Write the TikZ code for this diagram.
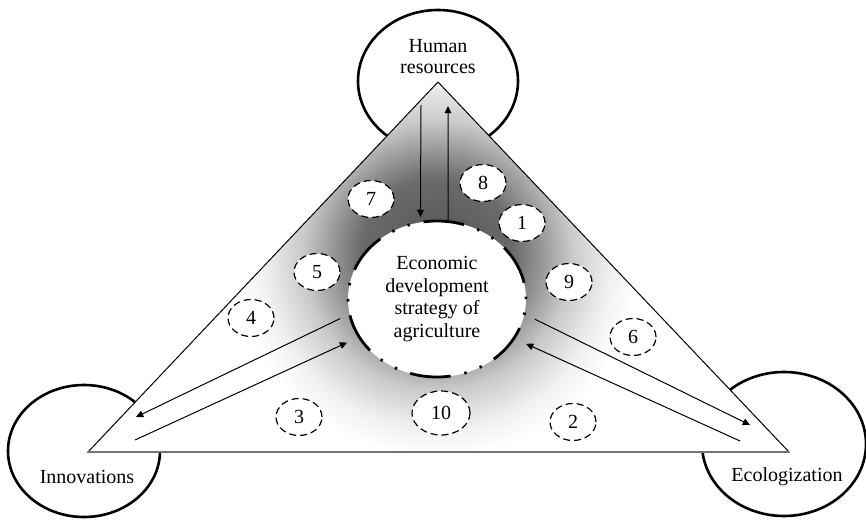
\documentclass[tikz,border=0pt]{standalone}
\usepackage{fontspec}
\setmainfont{Liberation Serif}
\usetikzlibrary{calc,
	shapes.geometric,
	arrows.meta
}
\pgfdeclareradialshading{hubglow}{\pgfpoint{0bp}{0bp}}{%
	color(0bp)=(black!68); color(8bp)=(black!58); color(11bp)=(black!40);
	color(14bp)=(black!21); color(18bp)=(black!6); color(21bp)=(white);
	color(50bp)=(white)}
\tikzset{
	pillar/.style={ellipse, draw, line width=1.3pt, inner sep=0pt},
	hub/.style={ellipse, draw, fill=white, line width=1.4pt,
		dash pattern=on 20.4pt off 7pt on 1.2pt off 7pt on 1.2pt off 7pt, dash phase=35.6pt,
		minimum width=89pt, minimum height=78pt, inner sep=0pt, align=center,
		font=\fontsize{10}{11.3}\selectfont},
	factor/.style={ellipse, draw, fill=white, line width=0.6pt, dash pattern=on 3.5pt off 2pt,
		minimum width=23pt, minimum height=18.5pt, inner sep=0pt, font=\fontsize{10}{12}\selectfont},
	caption/.style={align=center, inner sep=0pt, font=\fontsize{10}{10.5}\selectfont},
	flow/.style={line width=0.5pt, -{Triangle[length=3.6pt,width=3.4pt]}},
}
\begin{document}
\begin{tikzpicture}[x=0.5pt, y=-0.5pt]
\useasboundingbox (0,0) rectangle (866,519);

% pillars

\node[pillar, minimum width=80pt, minimum height=71pt] (hr) at (438,81) {};
\node[pillar, minimum width=76pt, minimum height=66pt] (inno) at (84,451) {};
\node[pillar, minimum width=82pt, minimum height=72pt] (eco) at (784,444) {};

% triangle

\coordinate (apex) at (438,82);
\coordinate (lcorner) at (88,452);
\coordinate (rcorner) at (789,452);
\fill[white] (apex) -- (lcorner) -- (rcorner) -- cycle;
\begin{scope}
\clip (apex) -- (lcorner) -- (rcorner) -- cycle;
\shade[shading=hubglow] (437,255) circle (240);
\end{scope}
\draw[line width=0.5pt] (apex) -- (lcorner) -- (rcorner) -- cycle;
\draw[black!55, line width=0.9pt] (lcorner) -- (rcorner);

% graph

\node[hub] (hub) at (437,299) {Economic\\development\\strategy of\\agriculture};

\node[factor] (n1) at (522,223) {1};
\node[factor] (n2) at (573,422) {2};
\node[factor] (n3) at (299,417) {3};
\node[factor] (n4) at (251,318) {4};
\node[factor] (n5) at (317,272) {5};
\node[factor] (n6) at (633,337) {6};
\node[factor] (n7) at (371,199) {7};
\node[factor] (n8) at (483,183) {8};
\node[factor] (n9) at (569,282) {9};
\node[factor, minimum width=29pt, minimum height=22pt] (n10) at (441,413) {10};

\node[caption] (hrtext) at (438,57) {Human\\resources};
\node[caption] (innotext) at (87,477) {Innovations};
\node[caption] (ecotext) at (787,477) {Ecologization};

% connections

\draw[flow, shorten >=2pt] ($(hr.center)+(-17,24)$) -- (hub.102);
\draw[flow] (hub.82) -- ($(hr.center)+(10,25)$);

\draw[flow, shorten <=4.5pt] (hub.190) -- ($(inno.center)+(52,-34)$);
\draw[flow, shorten >=6pt] ($(inno.center)+(51,-11)$) -- (hub.206);

\draw[flow, shorten <=5pt] (hub.-10) -- ($(eco.center)+(-34,-19)$);
\draw[flow, shorten >=6pt] ($(eco.center)+(-44,-3)$) -- (hub.-27);

\end{tikzpicture}
\end{document}
